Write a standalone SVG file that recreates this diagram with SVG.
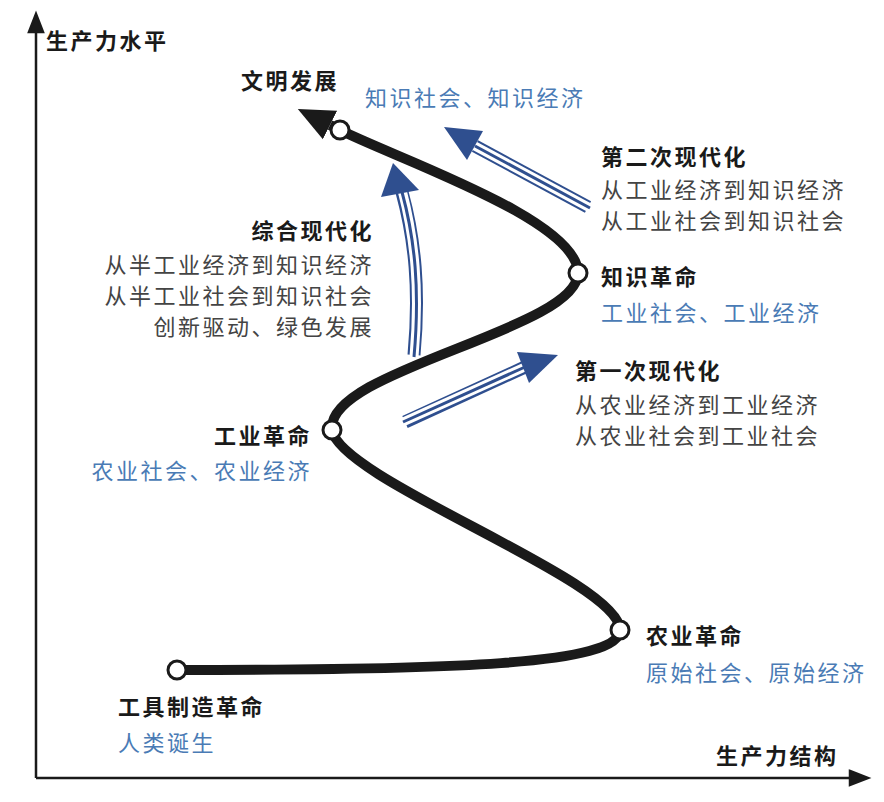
<svg xmlns="http://www.w3.org/2000/svg" width="884" height="802" viewBox="0 0 884 802">
<style>
text{font-family:"Noto Sans CJK SC",sans-serif;font-size:22px;letter-spacing:2.5px}
.h{font-weight:bold;fill:#1a1a1a}
.g{fill:#444}
.b{fill:#4a7bb5}
.ba{fill:none;stroke:#2f4f8f}
.w{fill:none;stroke:#fff}
circle{fill:#fff;stroke:#1a1a1a;stroke-width:3}
</style>
<defs>
<marker id="ah" markerUnits="userSpaceOnUse" markerWidth="40" markerHeight="40" refX="0" refY="20" orient="auto" viewBox="0 0 40 40"><path d="M0,4 L36,20 L0,36 Z" fill="#1a1a1a"/></marker>
</defs>
<g id="axes" stroke="#1a1a1a" stroke-width="2.5" fill="none">
<path d="M36,778 V20"/><path d="M29,32 L36,14 L43,32 Z" fill="#1a1a1a"/>
<path d="M36,778 H862"/><path d="M850,771 L868,778 L850,785 Z" fill="#1a1a1a"/>
</g>
<g id="connectors">
<path d="M177,670 C450,670 620,665 620,630 C620,580 340,480 332,430 C325,370 578,330 578,273 C578,220 400,160 340,130 L330,125" fill="none" stroke="#1a1a1a" stroke-width="10" marker-end="url(#ah)"/>
<g id="a1">
<path class="ba" stroke-width="13" d="M405,422 L525,367"/><path class="w" stroke-width="9" d="M403,422 L527,366"/><path class="ba" stroke-width="3" d="M403,422 L525,367"/>
<path d="M517,352 L558,355 L529,383 Z" fill="#2f4f8f"/>
</g>
<g id="a2">
<path class="ba" stroke-width="13" d="M414,355 C420,290 415,240 402,192"/><path class="w" stroke-width="9" d="M414,357 C420,290 415,240 402,190"/><path class="ba" stroke-width="3" d="M414,357 C420,290 415,240 402,192"/>
<path d="M381,197 L393,163 L419,190 Z" fill="#2f4f8f"/>
</g>
<g id="a3">
<path class="ba" stroke-width="13" d="M588,207 L475,146"/><path class="w" stroke-width="9" d="M590,208 L473,145"/><path class="ba" stroke-width="3" d="M590,208 L475,146"/>
<path d="M483,131 L444,127 L467,160 Z" fill="#2f4f8f"/>
</g>
</g>
<g id="n-tool"><circle cx="177" cy="670" r="9"/><text class="h" x="118" y="715">工具制造革命</text><text class="b" x="118" y="751">人类诞生</text></g>
<g id="n-agri"><circle cx="620" cy="630" r="9"/><text class="h" x="646" y="644">农业革命</text><text class="b" x="646" y="681">原始社会、原始经济</text></g>
<g id="n-ind"><circle cx="332" cy="430" r="9"/><text class="h" x="312" y="444" text-anchor="end">工业革命</text><text class="b" x="312" y="479" text-anchor="end">农业社会、农业经济</text></g>
<g id="n-know"><circle cx="578" cy="273" r="9"/><text class="h" x="601" y="285">知识革命</text><text class="b" x="601" y="321">工业社会、工业经济</text></g>
<g id="n-civ"><circle cx="340" cy="130" r="9"/><text class="h" x="241" y="89">文明发展</text><text class="b" x="365" y="106">知识社会、知识经济</text></g>
<g id="l1"><text class="h" x="575" y="379">第一次现代化</text><text class="g" x="575" y="413">从农业经济到工业经济</text><text class="g" x="575" y="444">从农业社会到工业社会</text></g>
<g id="l2"><text class="h" x="601" y="165">第二次现代化</text><text class="g" x="601" y="198">从工业经济到知识经济</text><text class="g" x="601" y="229">从工业社会到知识社会</text></g>
<g id="l3" text-anchor="end"><text class="h" x="374" y="239">综合现代化</text><text class="g" x="374" y="273">从半工业经济到知识经济</text><text class="g" x="374" y="304">从半工业社会到知识社会</text><text class="g" x="374" y="335">创新驱动、绿色发展</text></g>
<text class="h" x="46" y="49">生产力水平</text>
<text class="h" x="716" y="764">生产力结构</text>
</svg>
